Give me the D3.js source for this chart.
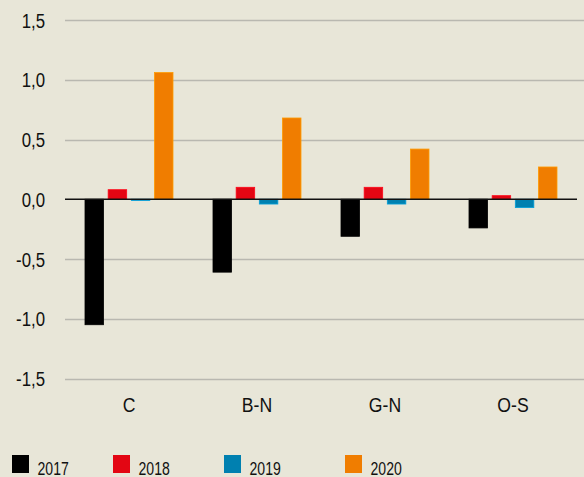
<!DOCTYPE html>
<html>
<head>
<meta charset="utf-8">
<script src="https://cdn.jsdelivr.net/npm/d3@7"></script>
<style>
  body { margin: 0; background: #e8e6d8; }
  svg { display: block; }
  text { font-family: "Liberation Sans", Arial, sans-serif; fill: #111; }
</style>
</head>
<body>
<div id="chart"></div>
<script>
// data
const categories = ["C", "B-N", "G-N", "O-S"];
const years = ["2017", "2018", "2019", "2020"];
const v2017 = [-1.05, -0.61, -0.31, -0.24];
const v2018 = [0.08, 0.10, 0.10, 0.03];
const v2019 = [-0.01, -0.04, -0.04, -0.07];
const v2020 = [1.06, 0.68, 0.42, 0.27];
const yTicks = [1.5, 1.0, 0.5, 0.0, -0.5, -1.0, -1.5];
const colors = ["#000000", "#e30613", "#0080b0", "#f07d00"];

const series = [v2017, v2018, v2019, v2020];
const data = categories.map((c, i) => ({cat: c, vals: years.map((y, j) => ({year: y, v: series[j][i]}))}));

const W = 584, H = 477;
const margin = {top: 20, right: 7, bottom: 98, left: 65};
const width = W - margin.left - margin.right,
      height = H - margin.top - margin.bottom;

const svg = d3.select("#chart").append("svg")
    .attr("width", W).attr("height", H);
svg.append("rect").attr("width", W).attr("height", H).attr("fill", "#e8e6d8");

const g = svg.append("g").attr("transform", `translate(${margin.left},${margin.top})`);

const y = d3.scaleLinear().domain([-1.5, 1.5]).range([height - 0.5, 0]);
const x = d3.scaleBand().domain(categories).range([0, width]);
const x1 = d3.scaleBand().domain(years).range([20, x.bandwidth() - 20]).paddingInner(0.2);

const fmt = d => d3.format(".1f")(d).replace(".", ",").replace("−", "-");

// grid lines
g.append("g")
  .selectAll("line")
  .data(yTicks.filter(d => d !== 0))
  .join("line")
    .attr("x1", 0).attr("x2", W - margin.left)
    .attr("y1", d => Math.round(y(d)) + 0.5).attr("y2", d => Math.round(y(d)) + 0.5)
    .attr("stroke", "#b9b8b0").attr("stroke-width", 1.5);

// y labels (condensed look via horizontal scaling)
g.append("g")
  .selectAll("text")
  .data(yTicks)
  .join("text")
    .attr("transform", d => `translate(-20,${y(d) + 7.5}) scale(0.82,1)`)
    .attr("text-anchor", "end")
    .style("font-size", "20.5px")
    .text(fmt);

// bars
g.append("g")
  .selectAll("g")
  .data(data)
  .join("g")
    .attr("transform", d => `translate(${x(d.cat)},0)`)
  .selectAll("rect")
  .data(d => d.vals)
  .join("rect")
    .attr("x", d => x1(d.year))
    .attr("width", x1.bandwidth())
    .attr("y", d => y(Math.max(0, d.v)))
    .attr("height", d => Math.abs(y(d.v) - y(0)))
    .attr("fill", (d, i) => colors[i])
    .attr("stroke", (d, i) => d3.color(colors[i]).brighter(0.6))
    .attr("stroke-width", 0.8);

// zero line
g.append("line")
  .attr("x1", 0).attr("x2", width)
  .attr("y1", y(0)).attr("y2", y(0))
  .attr("stroke", "#111").attr("stroke-width", 1.5);

// category labels
g.append("g")
  .selectAll("text")
  .data(categories)
  .join("text")
    .attr("transform", d => `translate(${x(d) + x.bandwidth() / 2},${height + 32.5}) scale(0.86,1)`)
    .attr("text-anchor", "middle")
    .style("font-size", "20.5px")
    .text(d => d);

// legend
const legX = [12, 113, 224, 345];
const leg = svg.append("g")
  .selectAll("g")
  .data(years)
  .join("g")
    .attr("transform", (d, i) => `translate(${legX[i]},455)`);
leg.append("rect").attr("width", 17).attr("height", 18).attr("fill", (d, i) => colors[i]);
leg.append("text")
  .attr("transform", "translate(25.5,20) scale(0.76,1)")
  .style("font-size", "18.5px")
  .text(d => d);
</script>
</body>
</html>
